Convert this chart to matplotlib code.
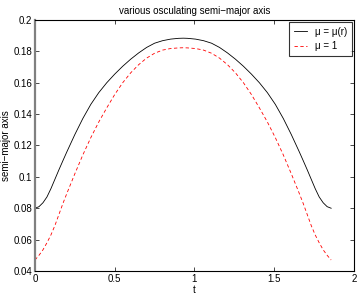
"""Osculating semi-major axis for two mu models"""

import matplotlib
matplotlib.use('Agg')
import matplotlib.pyplot as plt

plt.rcParams['font.family'] = ['Liberation Sans', 'DejaVu Sans']
plt.rcParams['font.size'] = 7

# mu = mu(r)
t_mur = [0.0, 0.025, 0.05, 0.075, 0.10, 0.125, 0.15, 0.175, 0.20, 0.25,
         0.30, 0.35, 0.40, 0.45, 0.50, 0.55, 0.60, 0.65, 0.70, 0.75,
         0.80, 0.85, 0.90, 0.93, 0.957, 1.007, 1.057, 1.107, 1.157, 1.207,
         1.257, 1.307, 1.357, 1.407, 1.457, 1.507, 1.557, 1.607, 1.657, 1.682,
         1.707, 1.732, 1.757, 1.782, 1.807, 1.832, 1.857]
a_mur = [0.0800, 0.0810, 0.0835, 0.0872, 0.0925, 0.0985, 0.1045, 0.1103, 0.1160, 0.1270,
         0.1372, 0.1462, 0.1537, 0.1600, 0.1655, 0.1705, 0.1750, 0.1790, 0.1825, 0.1852,
         0.1868, 0.1878, 0.1883, 0.1884, 0.1883, 0.1878, 0.1868, 0.1852, 0.1825, 0.1790,
         0.1750, 0.1705, 0.1655, 0.1600, 0.1537, 0.1462, 0.1372, 0.1270, 0.1160, 0.1103,
         0.1045, 0.0985, 0.0925, 0.0872, 0.0835, 0.0810, 0.0800]

# mu = 1
t_mu1 = [0.0, 0.025, 0.05, 0.075, 0.10, 0.125, 0.15, 0.175, 0.20, 0.25,
         0.30, 0.35, 0.40, 0.45, 0.50, 0.55, 0.60, 0.65, 0.70, 0.75,
         0.80, 0.85, 0.90, 0.93, 0.957, 1.007, 1.057, 1.107, 1.157, 1.207,
         1.257, 1.307, 1.357, 1.407, 1.457, 1.507, 1.557, 1.607, 1.657, 1.682,
         1.707, 1.732, 1.757, 1.782, 1.807, 1.832, 1.857]
a_mu1 = [0.0470, 0.0500, 0.0535, 0.0580, 0.0630, 0.0690, 0.0760, 0.0830, 0.0895, 0.1020,
         0.1140, 0.1250, 0.1350, 0.1440, 0.1525, 0.1600, 0.1663, 0.1715, 0.1757, 0.1788,
         0.1808, 0.1818, 0.1822, 0.1823, 0.1822, 0.1818, 0.1808, 0.1788, 0.1757, 0.1715,
         0.1663, 0.1600, 0.1525, 0.1440, 0.1350, 0.1250, 0.1140, 0.1020, 0.0895, 0.0830,
         0.0760, 0.0690, 0.0630, 0.0580, 0.0535, 0.0500, 0.0470]

fig = plt.figure(figsize=(3.6, 2.96), dpi=100)
ax = fig.add_axes([0.0972, 0.0845, 0.886, 0.848])

ax.plot(t_mur, a_mur, color='black', lw=0.6, label='\u03bc = \u03bc(r)')
ax.plot(t_mu1, a_mu1, color='red', lw=0.6, ls=(0, (4, 3)), label='\u03bc = 1')

ax.set_xlim(0, 2)
ax.set_ylim(0.04, 0.2)
ax.set_xticks([0, 0.5, 1, 1.5, 2])
ax.set_xticklabels(['0', '0.5', '1', '1.5', '2'])
ax.set_yticks([0.04, 0.06, 0.08, 0.1, 0.12, 0.14, 0.16, 0.18, 0.2])
ax.set_yticklabels(['0.04', '0.06', '0.08', '0.1', '0.12', '0.14', '0.16', '0.18', '0.2'])
ax.tick_params(direction='in', top=True, right=True, length=3, width=0.5, pad=2)

for side in ['top', 'right', 'bottom']:
    ax.spines[side].set_linewidth(0.8)
ax.spines['left'].set_linewidth(1.6)
ax.spines['left'].set_color('0.5')

ax.set_title('various osculating semi\u2212major axis', fontsize=7, pad=4)
ax.set_xlabel('t', labelpad=1)
ax.set_ylabel('semi\u2212major axis', labelpad=2)

leg = ax.legend(loc='upper right', fancybox=False, edgecolor='black',
                borderaxespad=0.2, handlelength=1.4, handletextpad=0.8,
                fontsize=7, borderpad=0.5, labelspacing=0.45)
leg.get_frame().set_linewidth(0.8)

fig.savefig('out.png', dpi=100)
